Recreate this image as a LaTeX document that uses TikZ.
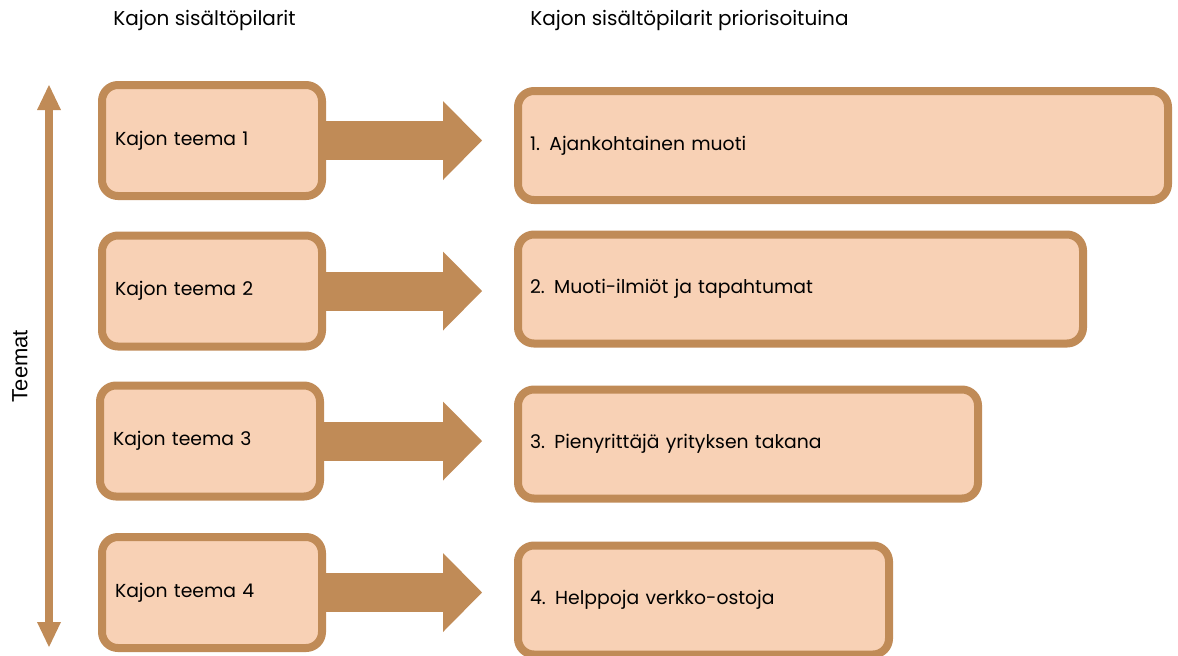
\documentclass[tikz,border=0pt]{standalone}
\usepackage{fontspec}
\setmainfont{Poppins}
\newfontfamily\axisfont{Liberation Sans}
\usetikzlibrary{arrows.meta,positioning}
\definecolor{pillarline}{HTML}{C08B57}
\definecolor{pillarfill}{HTML}{F8D1B5}

\begin{document}
\begin{tikzpicture}[x=0.5pt,y=-0.5pt,>=Latex]
\tikzset{
  themebox/.style={draw=pillarline,line width=4pt,rounded corners=8pt,fill=pillarfill,align=left,font=\fontsize{9.4}{11}\selectfont,inner xsep=6.5pt,text width=97pt,minimum height=55.5pt},
  priobox/.style={themebox,inner xsep=6pt,text width=#1,minimum height=54.5pt},
  blockarrow/.style={draw=pillarline,line width=19.5pt,-{Triangle[length=19.5pt,width=39.5pt,line width=0pt]},shorten >=16pt},
  header/.style={anchor=west,font=\fontsize{10}{12}\selectfont,inner sep=0pt}
}
\useasboundingbox (0,0) rectangle (1178,655);
\node[header] (hd_left) at (113,20) {Kajon sisältöpilarit};
\node[header] (hd_right) at (530,20) {Kajon sisältöpilarit priorisoituina};
\node[themebox] (th1) at (212,140.5) {Kajon teema 1};
\node[themebox] (th2) at (212,291) {Kajon teema 2};
\node[themebox] (th3) at (210,441) {Kajon teema 3};
\node[themebox] (th4) at (212,592.5) {Kajon teema 4};
\node[priobox=313pt] (pr1) at (843,145.5) {1. Ajankohtainen muoti};
\node[priobox=270.5pt] (pr2) at (800.5,289) {2. Muoti-ilmiöt ja tapahtumat};
\node[priobox=218pt] (pr3) at (748,444) {3. Pienyrittäjä yrityksen takana};
\node[priobox=173.5pt] (pr4) at (703.5,600) {4. Helppoja verkko-ostoja};
\foreach \i in {1,...,4}
  \draw[blockarrow] (th\i.east) -- (th\i.east -| pr\i.west);
% theme axis
\coordinate (ax_top) at (49,85);
\coordinate (ax_bot) at (49,647);
\draw[draw=pillarline,line width=4pt,{Triangle[length=12.5pt,width=12pt,line width=0pt]}-{Triangle[length=12.5pt,width=12pt,line width=0pt]}] (ax_top) -- (ax_bot);
\node[rotate=90,font=\axisfont\fontsize{11}{13}\selectfont] (axis_lbl) at (20,366) {Teemat};
\end{tikzpicture}
\end{document}
